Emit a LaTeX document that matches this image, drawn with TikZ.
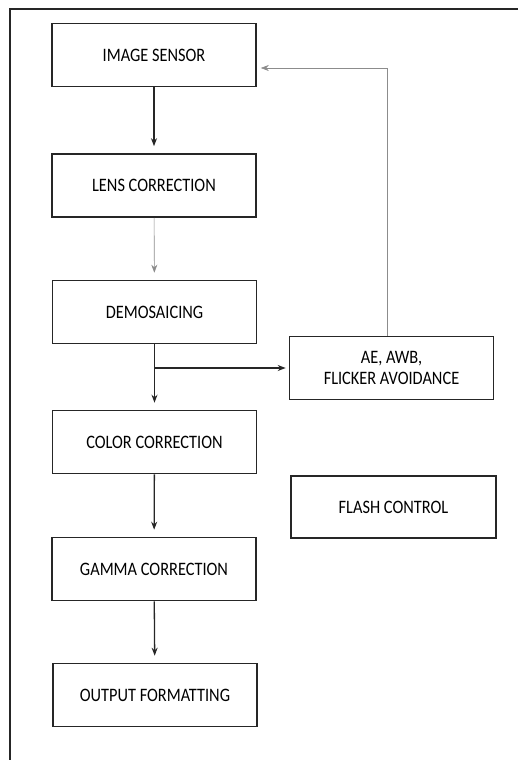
\documentclass[tikz,border=0pt]{standalone}
\usepackage{fontspec}
\setmainfont{Carlito}[FakeStretch=0.86]
\usetikzlibrary{arrows.meta}
\begin{document}
\begin{tikzpicture}[x=1pt,y=-1pt,
  blk/.style={draw=black!85,line width=1.6pt,minimum width=204pt,minimum height=63pt,inner sep=0pt,align=center,font=\fontsize{19}{21}\selectfont},
  flow/.style={draw=black!85,line width=1.3pt,-{Stealth[length=8pt,width=6pt]},shorten >=7pt},
  thin/.style={draw=black!45,line width=0.6pt,-{Stealth[length=8pt,width=6pt]}},
  frame/.style={draw=black!85,line width=1.8pt}]
\useasboundingbox (0,0) rectangle (518,760);
\coordinate (ftop) at (518,9);
\coordinate (fcorner) at (10,9);
\coordinate (fbot) at (10,762);
\draw[frame] (ftop) -- (fcorner) -- (fbot);
\node[blk] (sensor) at (154,55) {IMAGE SENSOR};
\node[blk] (lens) at (154,185.5) {LENS CORRECTION};
\node[blk] (demo) at (154.5,312) {DEMOSAICING};
\node[blk] (color) at (154.5,442) {COLOR CORRECTION};
\node[blk] (gamma) at (154,569) {GAMMA CORRECTION};
\node[blk] (out) at (155,695) {OUTPUT FORMATTING};
\node[blk] (ae) at (391.5,368) {AE, AWB,\\FLICKER AVOIDANCE};
\node[blk,minimum width=205pt,minimum height=62pt] (flash) at (393.5,507) {FLASH CONTROL};
\draw[flow] (sensor) -- (lens);
\draw[thin,shorten >=7pt] (lens) -- (demo);
\draw[flow] (demo) -- (color);
\draw[flow] (color) -- (gamma);
\draw[flow] (gamma) -- (out);
\coordinate (br) at (demo.south |- ae.west);
\draw[flow,shorten >=3pt] (br) -- (ae.west);
\coordinate (up) at (387,68);
\draw[thin,shorten >=4pt] (ae.north -| up) -- (up) -- (up -| sensor.east);
\end{tikzpicture}
\end{document}
